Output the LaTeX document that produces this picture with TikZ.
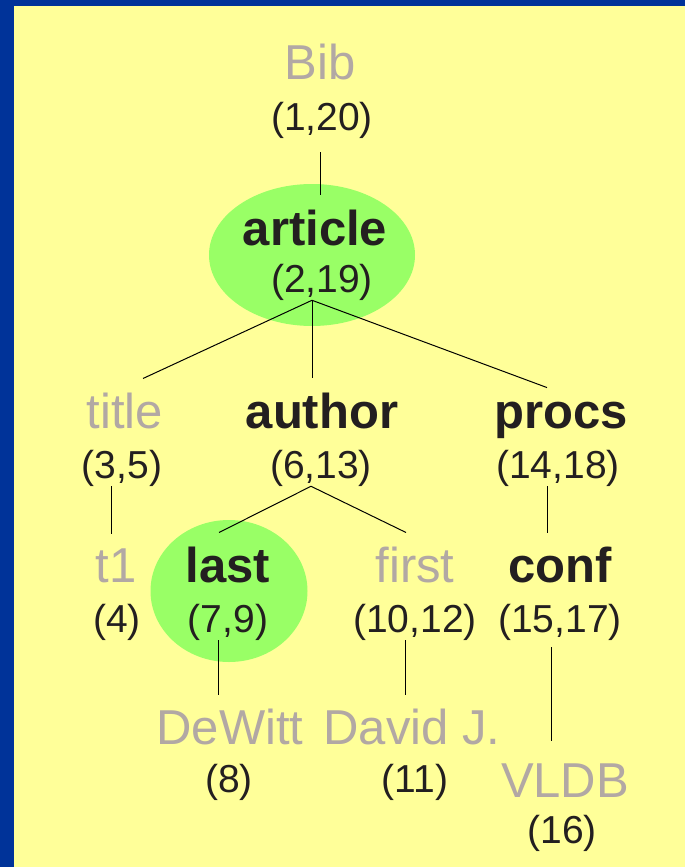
\documentclass[tikz,border=0pt]{standalone}
\usepackage{fontspec}
\setmainfont{Liberation Sans}
\usetikzlibrary{calc, positioning}

\definecolor{slideblue}{RGB}{0,51,153}
\definecolor{slideyellow}{RGB}{255,255,153}
\definecolor{hitgreen}{RGB}{153,255,102}
\definecolor{dimgrey}{RGB}{178,168,164}
\definecolor{inkblack}{RGB}{35,31,32}

\tikzset{
  tag/.style={font=\fontsize{49}{50}\selectfont, text=dimgrey, anchor=base,
    inner sep=0pt, outer ysep=14pt},
  hit/.style={tag, text=inkblack, font=\fontsize{49}{50}\selectfont\bfseries},
  region/.style={font=\fontsize{39}{40}\selectfont, text=inkblack, anchor=base,
    inner sep=0pt},
  edge/.style={draw=black, line width=1pt},
}

\begin{document}
\begin{tikzpicture}[x=1pt, y=-1pt]
  \fill[slideblue] (0,0) rectangle (685,867);
  \fill[slideyellow] (14,6) rectangle (685,867);
  \useasboundingbox (0,0) rectangle (685,867);

  % matched elements
  \fill[hitgreen] (312,255) ellipse (103 and 71);
  \fill[hitgreen] (229,591) ellipse (78.5 and 71);

  \node[tag] (bib) at (320,80) {Bib};
  \node[region] (bib-r) at (322,130) {(1,20)};
  \node[hit] (article) at (315,245) {article};
  \node[region] (article-r) at (322,292) {(2,19)};

  \node[tag] (title) at (125,428) {title};
  \node[region] (title-r) at (122,478) {(3,5)};
  \node[hit] (author) at (322,428) {author};
  \node[region] (author-r) at (321,478) {(6,13)};
  \node[hit] (procs) at (561,428) {procs};
  \node[region] (procs-r) at (558,478) {(14,18)};

  \node[tag] (t1) at (116,582) {t1};
  \node[region] (t1-r) at (117,632) {(4)};
  \node[hit] (last) at (228,582) {last};
  \node[region] (last-r) at (228,632) {(7,9)};
  \node[tag] (first) at (415,582) {first};
  \node[region] (first-r) at (415,632) {(10,12)};
  \node[hit] (conf) at (560,582) {conf};
  \node[region] (conf-r) at (560,632) {(15,17)};

  \node[tag] (dewitt) at (230,744) {DeWitt};
  \node[region] (dewitt-r) at (229,792) {(8)};
  \node[tag] (david) at (412,744) {David J.};
  \node[region] (david-r) at (415,792) {(11)};
  \node[tag] (vldb) at (565,797) {VLDB};
  \node[region] (vldb-r) at (562,843) {(16)};

  % tree edges
  \draw[edge, shorten <=14pt] ([xshift=-2pt]bib-r.south) -- ([xshift=5pt]article.north);
  \draw[edge] ([xshift=-10pt]article-r.south) -- ([xshift=18pt]title.north);
  \draw[edge] ([xshift=-10pt]article-r.south) -- ([xshift=-10pt]author.north);
  \draw[edge] ([xshift=-10pt]article-r.south) -- ([xshift=-14pt]procs.north);

  \draw[edge] ([xshift=-11pt]title-r.south) -- ([xshift=-5pt]t1.north);
  \draw[edge] ([xshift=-10pt]author-r.south) -- ([xshift=-9pt]last.north);
  \draw[edge] ([xshift=-10pt]author-r.south) -- ([xshift=-9pt]first.north);
  \draw[edge] ([xshift=-11pt]procs-r.south) -- ([xshift=-13pt]conf.north);

  \draw[edge] ([xshift=-10pt]last-r.south) -- ([xshift=-12pt]dewitt.north);
  \draw[edge] ([xshift=-10pt]first-r.south) -- ([xshift=-7pt]david.north);
  \draw[edge, shorten <=7pt, shorten >=8pt] ([xshift=-9pt]conf-r.south) -- ([xshift=-14pt]vldb.north);
\end{tikzpicture}
\end{document}
